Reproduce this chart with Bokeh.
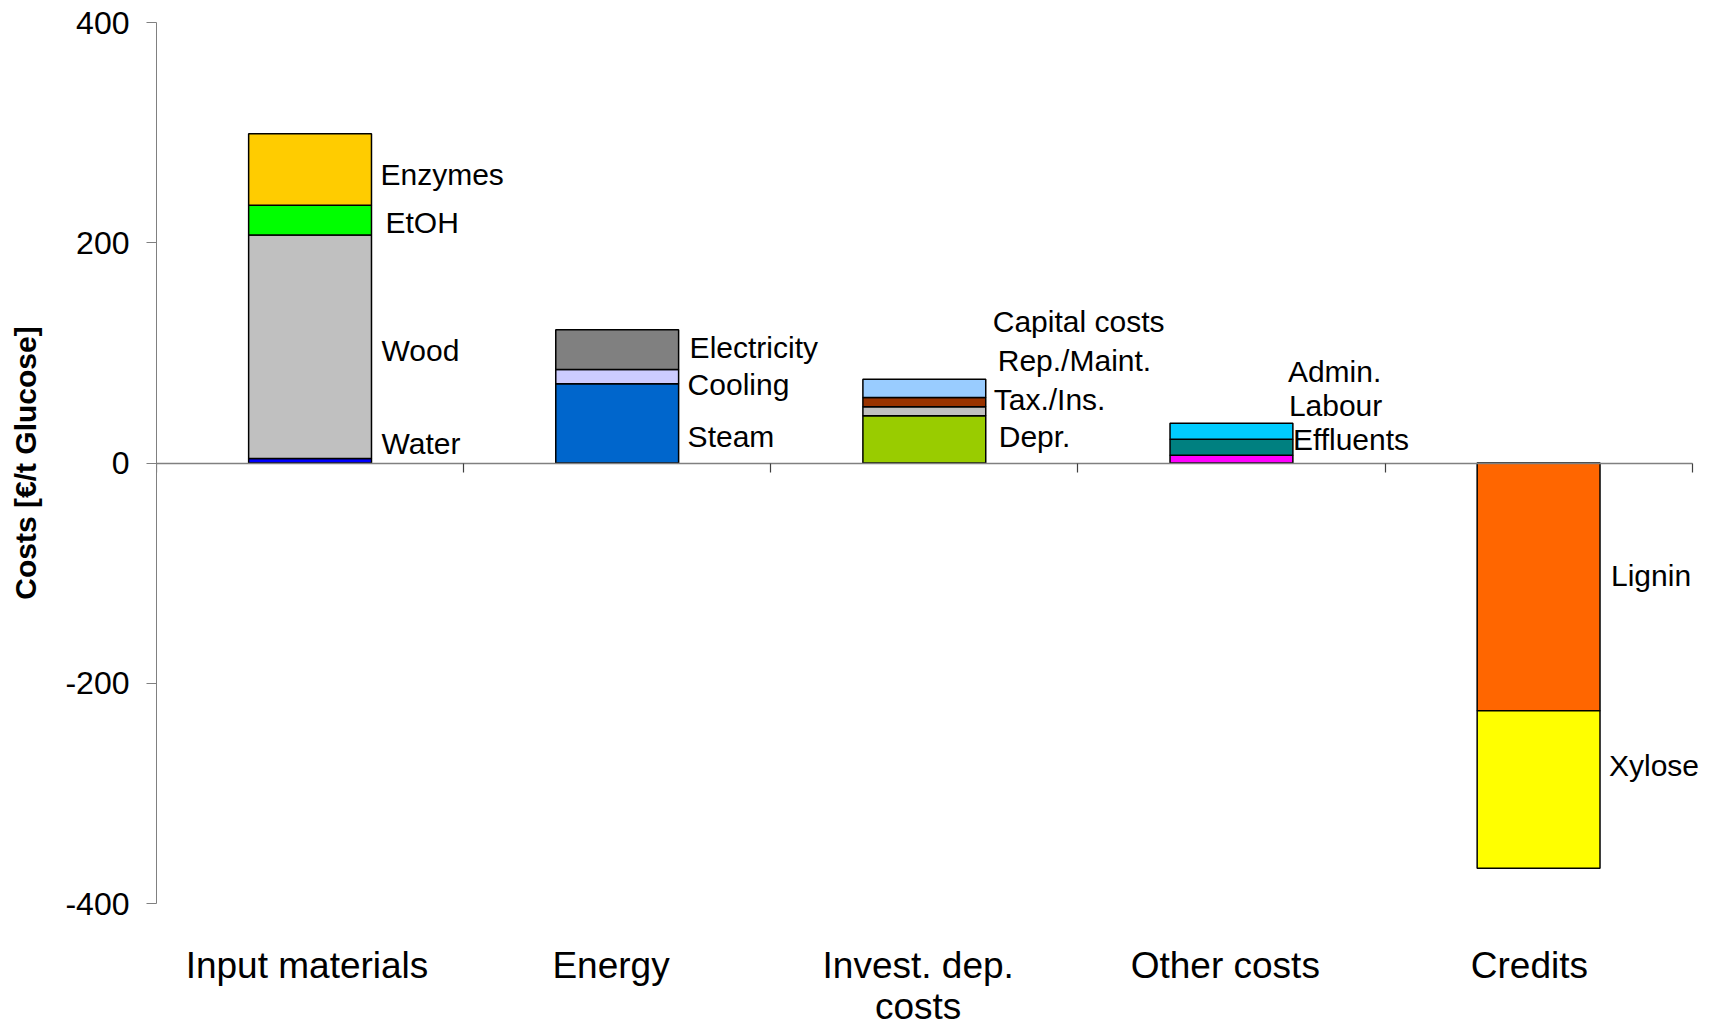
import numpy as np
from bokeh.plotting import figure
from bokeh.models import Range1d, FixedTicker, LinearAxis, ColumnDataSource
from bokeh.core.properties import value
from bokeh.embed import file_html
from bokeh.resources import INLINE

# ---- data -------------------------------------------------------------
categories = ["Input materials", "Energy", "Invest. dep.\ncosts", "Other costs", "Credits"]

input_items = ["Water", "Wood", "EtOH", "Enzymes"]
input_values = [4, 203, 27, 65]

energy_items = ["Steam", "Cooling", "Electricity"]
energy_values = [72, 13, 36]

invest_items = ["Depr.", "Tax./Ins.", "Rep./Maint.", "Capital costs"]
invest_values = [43, 8, 8.5, 16.5]

other_items = ["Effluents", "Labour", "Admin."]
other_values = [7, 14.5, 14.5]

credit_items = ["Lignin", "Xylose"]
credit_values = [-225, -143]

y_ticks = [-400, -200, 0, 200, 400]

# ---- styling ------------------------------------------------------------
colors = {
    "Water": "#0000FF", "Wood": "#C0C0C0", "EtOH": "#00FF00", "Enzymes": "#FFCC00",
    "Steam": "#0066CC", "Cooling": "#CCCCFF", "Electricity": "#808080",
    "Depr.": "#99CC00", "Tax./Ins.": "#C0C0C0", "Rep./Maint.": "#993300",
    "Capital costs": "#99CCFF",
    "Effluents": "#FF00FF", "Labour": "#008080", "Admin.": "#00CCFF",
    "Lignin": "#FF6600", "Xylose": "#FFFF00",
}
# baseline height (axis units) and horizontal offset (px) of each segment name
label_y = {
    "Water": 18, "Wood": 102, "EtOH": 218, "Enzymes": 262,
    "Steam": 24, "Cooling": 71, "Electricity": 105,
    "Depr.": 24.5, "Tax./Ins.": 58, "Rep./Maint.": 93.5, "Capital costs": 128.5,
    "Effluents": 21.5, "Labour": 52.5, "Admin.": 83.5,
    "Lignin": -102.5, "Xylose": -274.5,
}
label_dx = {
    "Water": 10, "Wood": 10, "EtOH": 14, "Enzymes": 9,
    "Steam": 9, "Cooling": 9, "Electricity": 11,
    "Depr.": 13, "Tax./Ins.": 8, "Rep./Maint.": 12, "Capital costs": 7,
    "Effluents": 0, "Labour": -4, "Admin.": -5,
    "Lignin": 11, "Xylose": 9,
}
category_label_pos = [0.49, 1.48, 2.48, 3.48, 4.47]
BAR_W = 0.4
FONT = "Liberation Sans"

groups = [
    (input_items, input_values),
    (energy_items, energy_values),
    (invest_items, invest_values),
    (other_items, other_values),
    (credit_items, credit_values),
]

bars = dict(x=[], bottom=[], top=[], color=[])
texts = dict(x=[], y=[], text=[], dx=[])
for k, (items, vals) in enumerate(groups):
    tops = np.cumsum(vals)
    bottoms = tops - np.asarray(vals)
    for name, b, t in zip(items, bottoms, tops):
        bars["x"].append(k + 0.5)
        bars["bottom"].append(float(b))
        bars["top"].append(float(t))
        bars["color"].append(colors[name])
        texts["x"].append(k + 0.5 + BAR_W / 2)
        texts["y"].append(label_y[name])
        texts["text"].append(name)
        texts["dx"].append(label_dx[name])

# ---- figure ------------------------------------------------------------
p = figure(
    width=1711, height=1029,
    x_range=Range1d(0, 5.05), y_range=Range1d(-400, 400),
    output_backend="svg", toolbar_location=None,
    min_border_left=156, min_border_right=4,
    min_border_top=22, min_border_bottom=125,
)
p.outline_line_color = None
p.grid.grid_line_color = None
p.background_fill_color = "white"
p.border_fill_color = "white"

p.vbar(x="x", width=BAR_W, bottom="bottom", top="top", fill_color="color",
       line_color="black", line_width=1.5, source=ColumnDataSource(bars))

p.text(x="x", y="y", text="text", x_offset="dx", source=ColumnDataSource(texts),
       text_font=value(FONT), text_font_size=value("30px"),
       text_baseline="alphabetic", text_align="left", text_color="black")

# value axis
ya = p.yaxis[0]
ya.ticker = FixedTicker(ticks=y_ticks)
ya.major_label_overrides = {t: str(t) for t in y_ticks}
ya.major_label_text_font = FONT
ya.major_label_text_font_size = "32px"
ya.major_label_text_color = "black"
ya.major_label_standoff = 17
ya.major_tick_out = 10
ya.major_tick_in = 0
ya.minor_tick_line_color = None
ya.axis_line_color = "#808080"
ya.major_tick_line_color = "#808080"
ya.axis_label = "Costs [€/t Glucose]"
ya.axis_label_text_font = FONT
ya.axis_label_text_font_style = "bold"
ya.axis_label_text_font_size = "30px"
ya.axis_label_text_color = "black"
ya.axis_label_standoff = 20

# category names along the bottom
xa = p.xaxis[0]
xa.ticker = FixedTicker(ticks=category_label_pos)
xa.major_label_overrides = {pos: name for pos, name in zip(category_label_pos, categories)}
xa.major_label_text_font = FONT
xa.major_label_text_font_size = "37px"
xa.major_label_text_color = "black"
xa.major_label_text_line_height = 1.0
xa.major_label_standoff = 41
xa.major_tick_out = 0
xa.major_tick_in = 0
xa.major_tick_line_color = None
xa.minor_tick_line_color = None
xa.axis_line_color = None

# zero line with category separators
zero_axis = LinearAxis(
    fixed_location=0, bounds=(0, 5),
    ticker=FixedTicker(ticks=[0, 1, 2, 3, 4, 5]),
    major_label_overrides={i: "" for i in range(6)},
    major_label_text_font_size="1px", major_label_standoff=0,
    major_tick_in=9, major_tick_out=0,
    minor_tick_line_color=None,
    axis_line_color="#808080", axis_line_width=1.5,
    major_tick_line_color="#404040", major_tick_line_width=1.2,
)
p.add_layout(zero_axis, "above")

open("out.html", "w").write(file_html(p, INLINE))
